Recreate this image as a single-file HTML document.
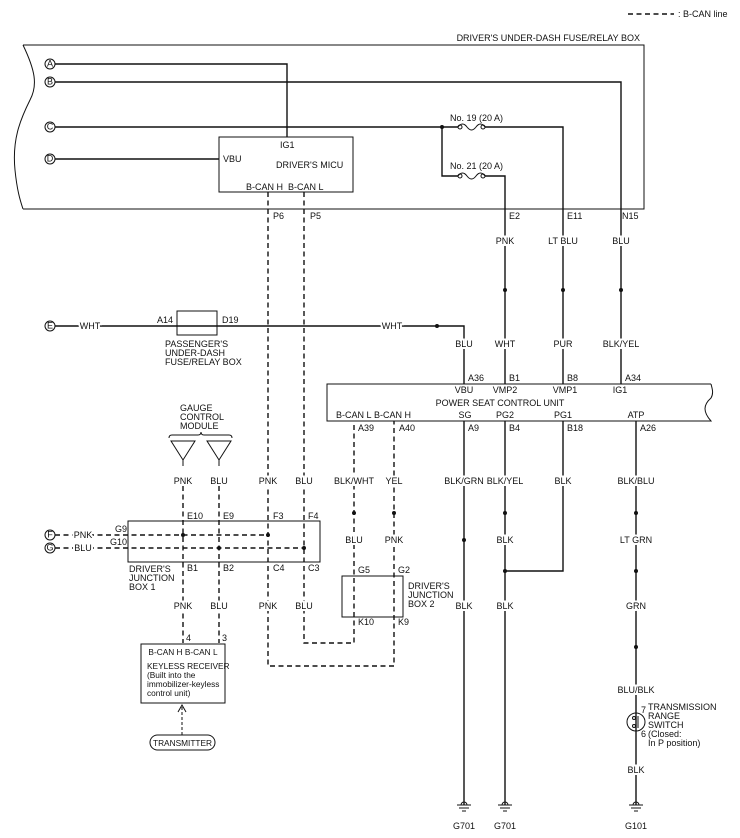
<!DOCTYPE html>
<html><head><style>
html,body{margin:0;padding:0;background:#fff}
svg{display:block}
text{font-family:"Liberation Sans",sans-serif;font-size:9px;fill:#111}
.c{text-anchor:middle}
.w{stroke:#fff;stroke-width:4;paint-order:stroke}
.l{stroke:#111;stroke-width:1.4;fill:none}
.d{stroke:#111;stroke-width:1.4;fill:none;stroke-dasharray:5 3.5}
.b{stroke:#111;stroke-width:1;fill:none}
.s{font-size:8.3px}
</style></head><body>
<svg width="740" height="838" viewBox="0 0 740 838" xmlns="http://www.w3.org/2000/svg">
<line x1="628" y1="14" x2="674" y2="14" class="d"/>
<text x="678" y="17">: B-CAN line</text>
<text x="640" y="41" style="text-anchor:end">DRIVER'S UNDER-DASH FUSE/RELAY BOX</text>
<path d="M23 45 H644 V209 H23" class="b"/>
<path d="M23 45 C35 70 38 85 30 100 C20 120 12 140 15 170 C17 190 20 200 23 209" class="b"/>
<g class="b"><circle cx="50" cy="64" r="5"/><circle cx="50" cy="82" r="5"/><circle cx="50" cy="127" r="5"/><circle cx="50" cy="159" r="5"/><circle cx="50" cy="326" r="5"/><circle cx="50" cy="535" r="5"/><circle cx="50" cy="548" r="5"/></g>
<g style="font-size:7px" class="c"><text x="50" y="66.5">A</text><text x="50" y="84.5">B</text><text x="50" y="129.5">C</text><text x="50" y="161.5">D</text><text x="50" y="328.5">E</text><text x="50" y="537.5">F</text><text x="50" y="550.5">G</text></g>
<path d="M55 64 H287 V137" class="l"/>
<path d="M55 82 H621 V290" class="l"/>
<path d="M55 127 H458 M485 127 H563 V290" class="l"/>
<path d="M442 127 V176 H458 M485 176 H505 V290" class="l"/>
<path d="M55 159 H219" class="l"/>
<circle cx="442" cy="127" r="2" fill="#111"/>
<path d="M458 127 c3 -4 6 -4 9 0 s6 4 9 0 s6 -4 9 0 M458 176 c3 -4 6 -4 9 0 s6 4 9 0 s6 -4 9 0" class="b"/>
<circle cx="460" cy="127" r="2" fill="#fff" class="b"/><circle cx="483" cy="127" r="2" fill="#fff" class="b"/>
<circle cx="460" cy="176" r="2" fill="#fff" class="b"/><circle cx="483" cy="176" r="2" fill="#fff" class="b"/>
<text x="450" y="121">No. 19 (20 A)</text>
<text x="450" y="169">No. 21 (20 A)</text>
<rect x="219" y="137" width="134" height="55" class="b"/>
<text x="280" y="148">IG1</text>
<text x="223" y="162">VBU</text>
<text x="276" y="168">DRIVER'S MICU</text>
<text x="246" y="190">B-CAN H</text><text x="288" y="190">B-CAN L</text>
<text x="273" y="219">P6</text><text x="310" y="219">P5</text>
<text x="509" y="219">E2</text><text x="567" y="219">E11</text><text x="622" y="219">N15</text>
<path d="M268 192 V666 H394 V421" class="d"/>
<path d="M304 192 V643 H354 V421" class="d"/>
<text x="505" y="244" class="c w">PNK</text><text x="563" y="244" class="c w">LT BLU</text><text x="621" y="244" class="c w">BLU</text>
<circle cx="505" cy="290" r="2" fill="#111"/><circle cx="563" cy="290" r="2" fill="#111"/><circle cx="621" cy="290" r="2" fill="#111"/>
<path d="M505 290 V384 M563 290 V384 M621 290 V384" class="l"/>
<text x="505" y="347" class="c w">WHT</text><text x="563" y="347" class="c w">PUR</text><text x="621" y="347" class="c w">BLK/YEL</text>
<path d="M55 326 H464 V384" class="l"/>
<circle cx="437" cy="326" r="2" fill="#111"/>
<text x="90" y="329" class="c w">WHT</text>
<text x="392" y="329" class="c w">WHT</text>
<text x="464" y="347" class="c w">BLU</text>
<rect x="177" y="311" width="40" height="24" fill="#fff" class="b"/>
<text x="157" y="323">A14</text><text x="222" y="323">D19</text>
<text x="165" y="347">PASSENGER'S</text><text x="165" y="356">UNDER-DASH</text><text x="165" y="365">FUSE/RELAY BOX</text>
<path d="M711 384 H327 V421 H711 C703 412 703 405 711 398 C714 393 712 388 711 384" class="b" fill="#fff"/>
<text x="468" y="381">A36</text><text x="509" y="381">B1</text><text x="567" y="381">B8</text><text x="625" y="381">A34</text>
<text x="464" y="393" class="c">VBU</text><text x="505" y="393" class="c">VMP2</text><text x="565" y="393" class="c">VMP1</text><text x="620" y="393" class="c">IG1</text>
<text x="500" y="406" class="c">POWER SEAT CONTROL UNIT</text>
<text x="336" y="418">B-CAN L</text><text x="374" y="418">B-CAN H</text><text x="465" y="418" class="c">SG</text><text x="505" y="418" class="c">PG2</text><text x="563" y="418" class="c">PG1</text><text x="636" y="418" class="c">ATP</text>
<text x="358" y="431">A39</text><text x="399" y="431">A40</text><text x="468" y="431">A9</text><text x="509" y="431">B4</text><text x="567" y="431">B18</text><text x="640" y="431">A26</text>
<path d="M464 421 V805 M505 421 V805 M563 421 V571 H505 M636 421 V805" class="l"/>
<text x="354" y="484" class="c w">BLK/WHT</text><text x="394" y="484" class="c w">YEL</text><text x="464" y="484" class="c w">BLK/GRN</text><text x="505" y="484" class="c w">BLK/YEL</text><text x="563" y="484" class="c w">BLK</text><text x="636" y="484" class="c w">BLK/BLU</text>
<g fill="#111"><circle cx="354" cy="513" r="2"/><circle cx="394" cy="513" r="2"/><circle cx="505" cy="513" r="2"/><circle cx="636" cy="513" r="2"/><circle cx="464" cy="540" r="2"/><circle cx="505" cy="571" r="2"/><circle cx="636" cy="571" r="2"/><circle cx="636" cy="647" r="2"/></g>
<text x="354" y="543" class="c w">BLU</text><text x="394" y="543" class="c w">PNK</text><text x="505" y="543" class="c w">BLK</text><text x="636" y="543" class="c w">LT GRN</text>
<rect x="342" y="576" width="61" height="41" class="b"/>
<text x="358" y="573">G5</text><text x="398" y="573">G2</text>
<text x="408" y="589">DRIVER'S</text><text x="408" y="598">JUNCTION</text><text x="408" y="607">BOX 2</text>
<text x="358" y="625">K10</text><text x="398" y="625">K9</text>
<text x="464" y="609" class="c w">BLK</text><text x="505" y="609" class="c w">BLK</text><text x="636" y="609" class="c w">GRN</text>
<text x="636" y="693" class="c w">BLU/BLK</text>
<circle cx="636" cy="722" r="9" fill="#fff" class="b"/>
<circle cx="634" cy="718" r="1.5" class="b"/><circle cx="634" cy="726" r="1.5" class="b"/><line x1="638" y1="716" x2="638" y2="728" class="b"/>
<text x="641" y="713">7</text><text x="641" y="737">6</text>
<text x="648" y="710">TRANSMISSION</text><text x="648" y="719">RANGE</text><text x="648" y="728">SWITCH</text><text x="648" y="737">(Closed:</text><text x="648" y="746">In P position)</text>
<text x="636" y="773" class="c w">BLK</text>
<g class="b">
<path d="M457 805 h14 M459 808 h10 M462 811 h4 M461 805 a3 3 0 0 1 6 0"/>
<path d="M498 805 h14 M500 808 h10 M503 811 h4 M502 805 a3 3 0 0 1 6 0"/>
<path d="M629 805 h14 M631 808 h10 M634 811 h4 M633 805 a3 3 0 0 1 6 0"/>
</g>
<text x="464" y="829" class="c">G701</text><text x="505" y="829" class="c">G701</text><text x="636" y="829" class="c">G101</text>
<text x="180" y="411">GAUGE</text><text x="180" y="420">CONTROL</text><text x="180" y="429">MODULE</text>
<path d="M169 438 q0 -3 3 -3 h26 q3 0 3 -3 q0 3 3 3 h25 q3 0 3 3" class="b"/>
<path d="M171 441 L195 441 L183 460 Z M207 441 L231 441 L219 460 Z M183 460 V466 M219 460 V466" class="b"/>
<path d="M183 486 V643 M219 486 V643" class="d"/>
<text x="183" y="484" class="c w">PNK</text><text x="219" y="484" class="c w">BLU</text><text x="268" y="484" class="c w">PNK</text><text x="304" y="484" class="c w">BLU</text>
<rect x="128" y="521" width="192" height="41" class="b"/>
<text x="187" y="519">E10</text><text x="223" y="519">E9</text><text x="273" y="519">F3</text><text x="308" y="519">F4</text>
<path d="M55 535 H268 M55 548 H304" class="d"/>
<text x="83" y="538" class="c w">PNK</text><text x="83" y="551" class="c w">BLU</text>
<text x="115" y="532">G9</text><text x="110" y="545">G10</text>
<g fill="#111"><circle cx="183" cy="535" r="2"/><circle cx="268" cy="535" r="2"/><circle cx="219" cy="548" r="2"/><circle cx="304" cy="548" r="2"/></g>
<text x="187" y="571">B1</text><text x="223" y="571">B2</text><text x="273" y="571">C4</text><text x="308" y="571">C3</text>
<text x="129" y="572">DRIVER'S</text><text x="129" y="581">JUNCTION</text><text x="129" y="590">BOX 1</text>
<text x="183" y="609" class="c w">PNK</text><text x="219" y="609" class="c w">BLU</text><text x="268" y="609" class="c w">PNK</text><text x="304" y="609" class="c w">BLU</text>
<rect x="141" y="644" width="84" height="59" fill="#fff" class="b"/>
<text x="186" y="641">4</text><text x="222" y="641">3</text>
<text x="183" y="655" class="c s">B-CAN H B-CAN L</text>
<text x="147" y="669" class="s">KEYLESS RECEIVER</text>
<text x="147" y="678" class="s">(Built into the</text>
<text x="147" y="687" class="s">immobilizer-keyless</text>
<text x="147" y="696" class="s">control unit)</text>
<path d="M182 735 V707" class="b" stroke-dasharray="3 2"/>
<path d="M178 712 L182 705 L186 712" class="b"/>
<rect x="150" y="735" width="65" height="15" rx="7.5" class="b"/>
<text x="182.5" y="746" class="c s">TRANSMITTER</text>
</svg>
</body></html>
